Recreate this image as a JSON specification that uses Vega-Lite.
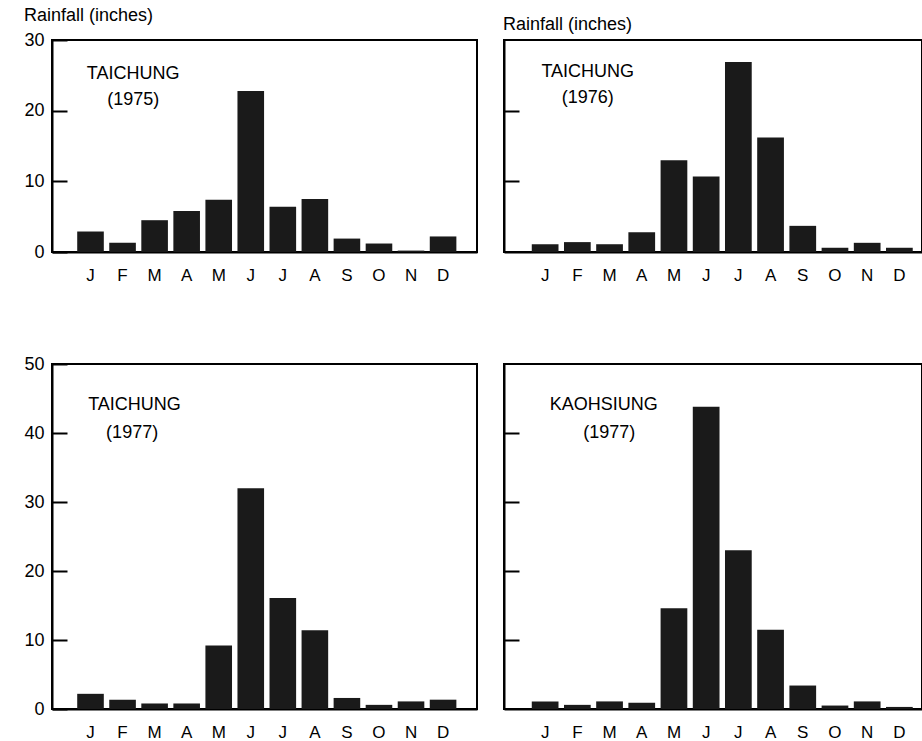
{
  "$schema": "https://vega.github.io/schema/vega-lite/v6.json",
  "background": "white",
  "padding": {"left": 22, "top": 6, "right": 0, "bottom": 0},
  "datasets": {
    "t75": [
      {"m": "Jan", "rain": 2.9}, {"m": "Feb", "rain": 1.3}, {"m": "Mar", "rain": 4.5}, {"m": "Apr", "rain": 5.8},
      {"m": "May", "rain": 7.4}, {"m": "Jun", "rain": 22.8}, {"m": "Jul", "rain": 6.4}, {"m": "Aug", "rain": 7.5},
      {"m": "Sep", "rain": 1.9}, {"m": "Oct", "rain": 1.2}, {"m": "Nov", "rain": 0.2}, {"m": "Dec", "rain": 2.2}
    ],
    "t76": [
      {"m": "Jan", "rain": 1.1}, {"m": "Feb", "rain": 1.4}, {"m": "Mar", "rain": 1.1}, {"m": "Apr", "rain": 2.8},
      {"m": "May", "rain": 13.0}, {"m": "Jun", "rain": 10.7}, {"m": "Jul", "rain": 26.9}, {"m": "Aug", "rain": 16.2},
      {"m": "Sep", "rain": 3.7}, {"m": "Oct", "rain": 0.6}, {"m": "Nov", "rain": 1.3}, {"m": "Dec", "rain": 0.6}
    ],
    "t77": [
      {"m": "Jan", "rain": 2.2}, {"m": "Feb", "rain": 1.35}, {"m": "Mar", "rain": 0.8}, {"m": "Apr", "rain": 0.8},
      {"m": "May", "rain": 9.2}, {"m": "Jun", "rain": 32.0}, {"m": "Jul", "rain": 16.1}, {"m": "Aug", "rain": 11.4},
      {"m": "Sep", "rain": 1.6}, {"m": "Oct", "rain": 0.6}, {"m": "Nov", "rain": 1.1}, {"m": "Dec", "rain": 1.35}
    ],
    "k77": [
      {"m": "Jan", "rain": 1.1}, {"m": "Feb", "rain": 0.6}, {"m": "Mar", "rain": 1.1}, {"m": "Apr", "rain": 0.9},
      {"m": "May", "rain": 14.6}, {"m": "Jun", "rain": 43.8}, {"m": "Jul", "rain": 23.0}, {"m": "Aug", "rain": 11.5},
      {"m": "Sep", "rain": 3.4}, {"m": "Oct", "rain": 0.5}, {"m": "Nov", "rain": 1.1}, {"m": "Dec", "rain": 0.3}
    ]
  },
  "config": {
    "font": "Liberation Sans",
    "view": {"stroke": "#000", "strokeWidth": 2},
    "axis": {
      "labelFont": "Liberation Sans", "labelColor": "#000", "tickColor": "#000", "domainColor": "#000",
      "domainWidth": 2, "tickWidth": 2, "grid": false, "title": null
    },
    "axisX": {"ticks": false, "labelFontSize": 17, "labelPadding": 15, "labelAngle": 0,
      "labelExpr": "substring(datum.label, 0, 1)"},
    "axisY": {"tickSize": -15, "labelFontSize": 18, "labelPadding": 23},
    "text": {"font": "Liberation Sans", "fontSize": 18, "color": "#000"},
    "bar": {"color": "#1a1a1a"},
    "title": {"font": "Liberation Sans", "fontSize": 18, "fontWeight": "normal", "color": "#000", "anchor": "start", "frame": "bounds", "offset": 6}
  },
  "vconcat": [
    {
      "hconcat": [
        {
          "width": 425, "height": 212,
          "title": {"text": "Rainfall (inches)"},
          "layer": [
            {
              "data": {"name": "t75"},
              "mark": {"type": "bar"},
              "encoding": {
                "x": {"field": "m", "type": "nominal", "sort": null,
                  "scale": {"domain": ["Jan","Feb","Mar","Apr","May","Jun","Jul","Aug","Sep","Oct","Nov","Dec"], "paddingInner": 0.17, "paddingOuter": 0.715, "align": 0.55}},
                "y": {"field": "rain", "type": "quantitative", "scale": {"domain": [0, 30], "nice": false},
                  "axis": {"values": [0, 10, 20, 30]}}
              }
            },
            {
              "data": {"values": [{"label": "TAICHUNG"}]},
              "mark": {"type": "text"},
              "encoding": {"x": {"datum": "Feb", "bandPosition": 0.9}, "y": {"datum": 25.2}, "text": {"field": "label"}}
            },
            {
              "data": {"values": [{"label": "(1975)"}]},
              "mark": {"type": "text"},
              "encoding": {"x": {"datum": "Feb", "bandPosition": 0.9}, "y": {"datum": 21.5}, "text": {"field": "label"}}
            }
          ]
        },
        {
          "width": 418, "height": 212,
          "title": {"text": "Rainfall (inches)"},
          "layer": [
            {
              "data": {"name": "t76"},
              "mark": {"type": "bar"},
              "encoding": {
                "x": {"field": "m", "type": "nominal", "sort": null,
                  "scale": {"domain": ["Jan","Feb","Mar","Apr","May","Jun","Jul","Aug","Sep","Oct","Nov","Dec"], "paddingInner": 0.17, "paddingOuter": 0.575, "align": 0.75}},
                "y": {"field": "rain", "type": "quantitative", "scale": {"domain": [0, 30], "nice": false},
                  "axis": {"values": [10, 20], "labels": false}}
              }
            },
            {
              "data": {"values": [{"label": "TAICHUNG"}]},
              "mark": {"type": "text"},
              "encoding": {"x": {"datum": "Feb", "bandPosition": 0.89}, "y": {"datum": 25.5}, "text": {"field": "label"}}
            },
            {
              "data": {"values": [{"label": "(1976)"}]},
              "mark": {"type": "text"},
              "encoding": {"x": {"datum": "Feb", "bandPosition": 0.89}, "y": {"datum": 21.8}, "text": {"field": "label"}}
            }
          ]
        }
      ],
      "spacing": 24
    },
    {
      "hconcat": [
        {
          "width": 425, "height": 345,
          "layer": [
            {
              "data": {"name": "t77"},
              "mark": {"type": "bar"},
              "encoding": {
                "x": {"field": "m", "type": "nominal", "sort": null,
                  "scale": {"domain": ["Jan","Feb","Mar","Apr","May","Jun","Jul","Aug","Sep","Oct","Nov","Dec"], "paddingInner": 0.17, "paddingOuter": 0.715, "align": 0.55}},
                "y": {"field": "rain", "type": "quantitative", "scale": {"domain": [0, 50], "nice": false},
                  "axis": {"values": [0, 10, 20, 30, 40, 50]}}
              }
            },
            {
              "data": {"values": [{"label": "TAICHUNG"}]},
              "mark": {"type": "text"},
              "encoding": {"x": {"datum": "Feb", "bandPosition": 0.95}, "y": {"datum": 44}, "text": {"field": "label"}}
            },
            {
              "data": {"values": [{"label": "(1977)"}]},
              "mark": {"type": "text"},
              "encoding": {"x": {"datum": "Feb", "bandPosition": 0.86}, "y": {"datum": 40}, "text": {"field": "label"}}
            }
          ]
        },
        {
          "width": 418, "height": 345,
          "layer": [
            {
              "data": {"name": "k77"},
              "mark": {"type": "bar"},
              "encoding": {
                "x": {"field": "m", "type": "nominal", "sort": null,
                  "scale": {"domain": ["Jan","Feb","Mar","Apr","May","Jun","Jul","Aug","Sep","Oct","Nov","Dec"], "paddingInner": 0.17, "paddingOuter": 0.575, "align": 0.75}},
                "y": {"field": "rain", "type": "quantitative", "scale": {"domain": [0, 50], "nice": false},
                  "axis": {"values": [10, 20, 30, 40], "labels": false}}
              }
            },
            {
              "data": {"values": [{"label": "KAOHSIUNG"}]},
              "mark": {"type": "text"},
              "encoding": {"x": {"datum": "Mar", "bandPosition": 0.28}, "y": {"datum": 44}, "text": {"field": "label"}}
            },
            {
              "data": {"values": [{"label": "(1977)"}]},
              "mark": {"type": "text"},
              "encoding": {"x": {"datum": "Mar", "bandPosition": 0.49}, "y": {"datum": 40}, "text": {"field": "label"}}
            }
          ]
        }
      ],
      "spacing": 24
    }
  ],
  "spacing": 70
}
